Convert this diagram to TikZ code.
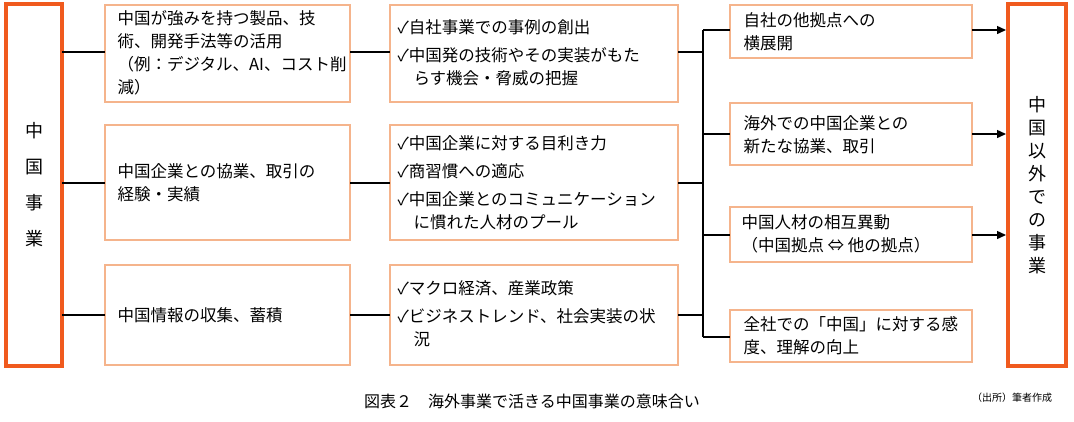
\documentclass[tikz,border=0pt]{standalone}
\usepackage{fontspec}
\setmainfont{Noto Sans CJK JP}
\usetikzlibrary{arrows.meta}
\definecolor{thickc}{RGB}{240,90,30}
\definecolor{thinc}{RGB}{245,180,140}
\begin{document}
\begin{tikzpicture}[x=1pt,y=-1pt,
  bx/.style={draw=thinc,line width=1.6pt},
  txt/.style={align=left,anchor=west,font=\fontsize{16.5}{23}\selectfont},
  big/.style={draw=thickc,line width=4pt},
  ln/.style={line width=1.4pt},
  ar/.style={line width=1.4pt,-{Triangle[length=9pt,width=8pt]}}]
\useasboundingbox (0,0) rectangle (1074,421);
% big boxes
\draw[big] (6,4) rectangle (62,366);
\node[font=\fontsize{18}{20}\selectfont,align=center] (L) at (34,185) {中\\[16pt]国\\[16pt]事\\[16pt]業};
\draw[big] (1008,4) rectangle (1066,366);
\node[font=\fontsize{18}{20}\selectfont,align=center] (R) at (1037,185) {中\\[3pt]国\\[3pt]以\\[3pt]外\\[3pt]で\\[3pt]の\\[3pt]事\\[3pt]業};
% column 1
\draw[bx] (105,5) rectangle (350,102);
\node[txt] (a1) at (114,53) {中国が強みを持つ製品、技\\術、開発手法等の活用\\（例：デジタル、AI、コスト削\\減）};
\draw[bx] (105,125) rectangle (350,240);
\node[txt] (a2) at (114,183) {中国企業との協業、取引の\\経験・実績};
\draw[bx] (105,265) rectangle (350,365);
\node[txt] (a3) at (114,315) {中国情報の収集、蓄積};
% column 2
\draw[bx] (390,5) rectangle (678,102);
\node[txt] (b1) at (394,53) {✓自社事業での事例の創出\\[5pt]✓中国発の技術やその実装がもた\\\hspace*{16pt}らす機会・脅威の把握};
\draw[bx] (390,125) rectangle (678,240);
\node[txt] (b2) at (394,183) {✓中国企業に対する目利き力\\[5pt]✓商習慣への適応\\[5pt]✓中国企業とのコミュニケーション\\\hspace*{16pt}に慣れた人材のプール};
\draw[bx] (390,265) rectangle (678,365);
\node[txt] (b3) at (394,314) {✓マクロ経済、産業政策\\[5pt]✓ビジネストレンド、社会実装の状\\\hspace*{16pt}況};
% column 3
\draw[bx] (730,5) rectangle (972,58);
\node[txt] (c1) at (740,32) {自社の他拠点への\\横展開};
\draw[bx] (730,103) rectangle (972,165);
\node[txt] (c2) at (740,135) {海外での中国企業との\\新たな協業、取引};
\draw[bx] (730,207) rectangle (972,262);
\node[txt] (c3) at (738,234) {中国人材の相互異動\\（中国拠点 ⇔ 他の拠点）};
\draw[bx] (730,310) rectangle (972,362);
\node[txt] (c4) at (740,336) {全社での「中国」に対する感\\度、理解の向上};
% connectors
\foreach \y in {52,183,315}{
  \draw[ln] (62,\y) -- (105,\y);
  \draw[ln] (350,\y) -- (390,\y);
  \draw[ln] (678,\y) -- (703,\y);
}
\draw[ln] (703,30) -- (703,337);
\foreach \y in {30,134,235,337}{ \draw[ln] (703,\y) -- (730,\y); }
\foreach \y in {30,134,235}{ \draw[ar] (972,\y) -- (1006,\y); }
% caption
\node[font=\fontsize{16}{18}\selectfont] (cap) at (532,401) {図表２\quad 海外事業で活きる中国事業の意味合い};
\node[font=\fontsize{10}{12}\selectfont] (src) at (1012,398) {（出所）筆者作成};
\end{tikzpicture}
\end{document}
